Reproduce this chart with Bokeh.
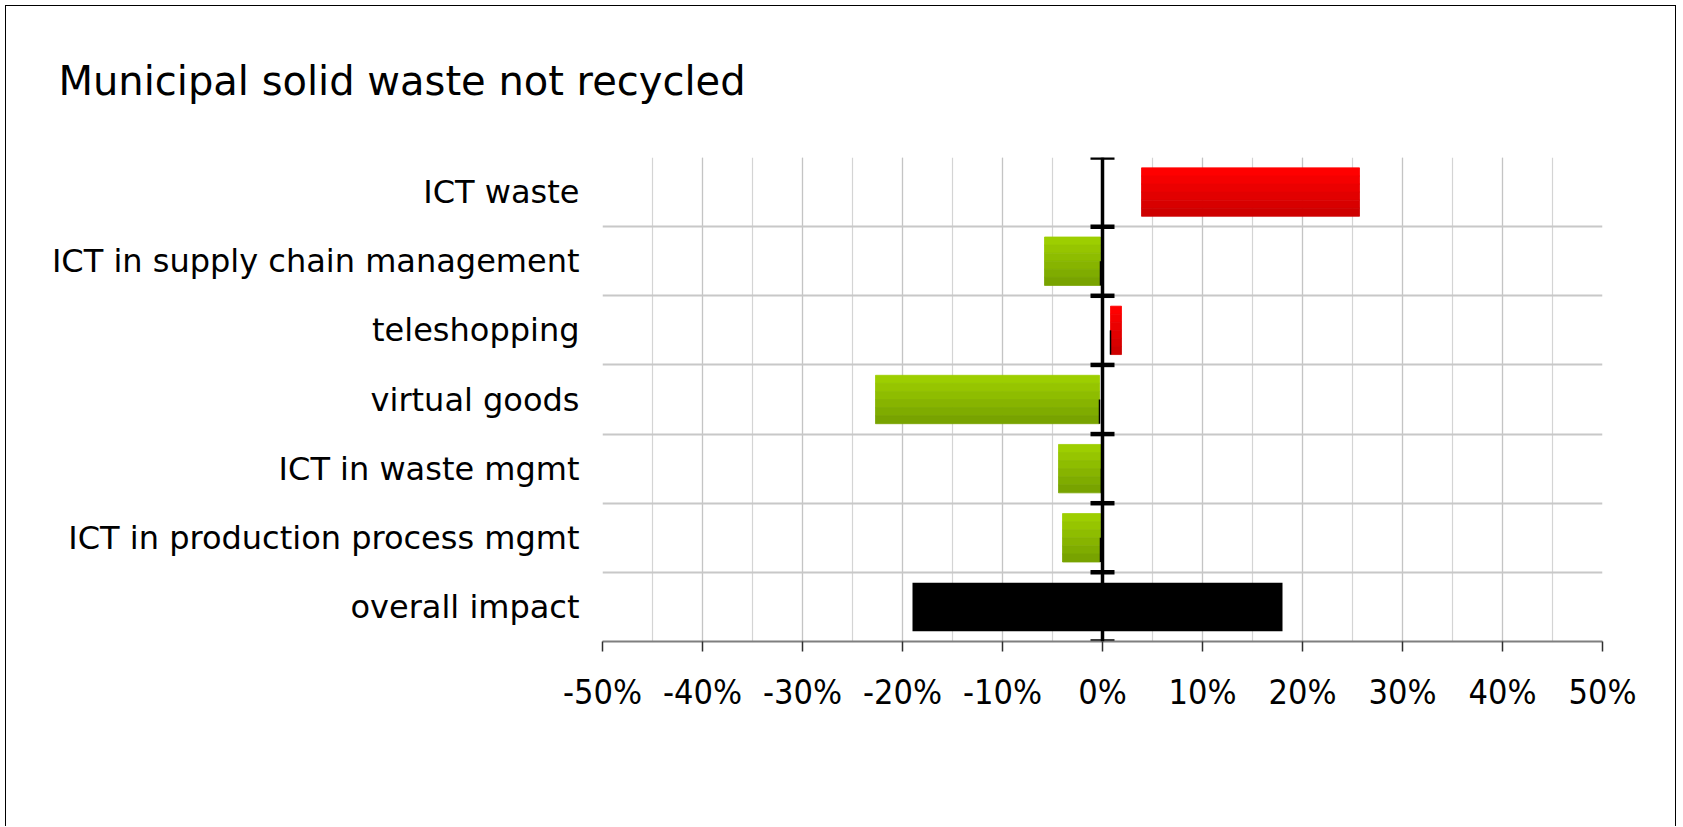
from bokeh.plotting import figure
from bokeh.models import Range1d, FixedTicker, SingleIntervalTicker, PrintfTickFormatter, Span
from bokeh.embed import file_html
from bokeh.resources import INLINE

# ---- data (top to bottom) ----
title_text = "Municipal solid waste not recycled"
categories = ["ICT waste", "ICT in supply chain management", "teleshopping",
              "virtual goods", "ICT in waste mgmt", "ICT in production process mgmt",
              "overall impact"]
low_pct = [3.9, -5.8, 0.8, -22.7, -4.4, -4.0, -19.0]
high_pct = [25.7, -0.2, 1.9, -0.3, -0.1, -0.2, 18.0]
kind = ["neg", "pos", "neg", "pos", "pos", "pos", "total"]   # red = adverse, green = beneficial

n = len(categories)
ypos = [n - 1 - i + 0.5 for i in range(n)]

p = figure(width=1671, height=821, output_backend="svg", toolbar_location=None,
           x_range=Range1d(-50, 50), y_range=Range1d(0, n),
           min_border_left=596, min_border_right=75, min_border_top=151, min_border_bottom=186)
p.styles = {"margin-left": "5px", "margin-top": "5px",
            "border-left": "1px solid #000", "border-top": "1px solid #000",
            "border-right": "1px solid #000"}
p.outline_line_color = None
p.background_fill_color = "white"
p.border_fill_color = "white"

# title
p.title.text = title_text
p.title.text_font = "DejaVu Sans"
p.title.text_font_size = "40px"
p.title.text_font_style = "normal"
p.title.text_color = "black"
p.title.align = "left"
p.title.vertical_align = "top"
p.title.offset = -544
p.title.standoff = 103

# x axis
p.xaxis.ticker = SingleIntervalTicker(interval=10, num_minor_ticks=2)
p.xaxis.formatter = PrintfTickFormatter(format="%d%%")
p.xaxis.axis_line_color = "#7f7f7f"
p.xaxis.axis_line_width = 2
p.xaxis.major_tick_line_color = "#303030"
p.xaxis.major_tick_line_width = 1.5
p.xaxis.major_tick_out = 10
p.xaxis.major_tick_in = 0
p.xaxis.minor_tick_line_color = None
p.xaxis.major_label_text_font = "'Liberation Sans Narrow', 'DejaVu Sans Condensed', 'Roboto Condensed', Roboto, sans-serif"
p.xaxis.major_label_text_font_size = "34px"
p.xaxis.major_label_text_color = "black"
p.xaxis.major_label_standoff = 20

p.xgrid.ticker = SingleIntervalTicker(interval=10, num_minor_ticks=2)
p.xgrid.grid_line_color = "#c4c4c4"
p.xgrid.grid_line_width = 1.2
p.xgrid.minor_grid_line_color = "#d4d4d4"
p.xgrid.minor_grid_line_width = 1.2

# y axis (category labels)
p.yaxis.ticker = FixedTicker(ticks=ypos)
p.yaxis.major_label_overrides = {y: c for y, c in zip(ypos, categories)}
p.yaxis.axis_line_color = None
p.yaxis.major_tick_line_color = None
p.yaxis.minor_tick_line_color = None
p.yaxis.major_label_text_font = "DejaVu Sans"
p.yaxis.major_label_text_font_size = "32px"
p.yaxis.major_label_text_color = "black"
p.yaxis.major_label_standoff = 17
p.ygrid.ticker = FixedTicker(ticks=list(range(n + 1)))
p.ygrid.grid_line_color = "#c8c8c8"
p.ygrid.grid_line_width = 2

# bars with banded gradient
bar_h = 0.70
nb = 6
green_top, green_bot = (157, 206, 0), (120, 163, 0)
red_top, red_bot = (255, 0, 0), (206, 0, 0)
def lerp(a, b, t):
    return "#%02x%02x%02x" % tuple(int(round(a[k] + (b[k] - a[k]) * t)) for k in range(3))

for i in range(n):
    if kind[i] == "total":
        p.hbar(y=[ypos[i]], left=[low_pct[i]], right=[high_pct[i]], height=bar_h,
               fill_color="black", line_color=None)
        continue
    top, bot = (green_top, green_bot) if kind[i] == "pos" else (red_top, red_bot)
    ys, cols = [], []
    for b in range(nb):
        ys.append(ypos[i] + bar_h / 2 - (b + 0.5) * bar_h / nb)
        cols.append(lerp(top, bot, b / (nb - 1)))
    p.hbar(y=ys, left=[low_pct[i]] * nb, right=[high_pct[i]] * nb, height=bar_h / nb,
           fill_color=cols, line_color=cols, line_width=0.8)

# thin dark edge on the side nearest zero (lower half)
ex, ey0, ey1 = [], [], []
for i in range(n):
    if kind[i] == "total" or low_pct[i] > 2:
        continue
    edge = high_pct[i] if high_pct[i] <= 0 else low_pct[i]
    ex.append(edge); ey0.append(ypos[i]); ey1.append(ypos[i] - bar_h / 2)
p.segment(x0=ex, y0=ey0, x1=ex, y1=ey1, line_color="black", line_width=1.5)

# zero line with category tick marks
p.add_layout(Span(location=0, dimension="height", line_color="black", line_width=3.5))
p.scatter(x=[0] * (n + 1), y=list(range(n + 1)), marker="dash", size=24,
          line_color="black", line_width=4.5)

open("out.html", "w").write(file_html(p, INLINE))
